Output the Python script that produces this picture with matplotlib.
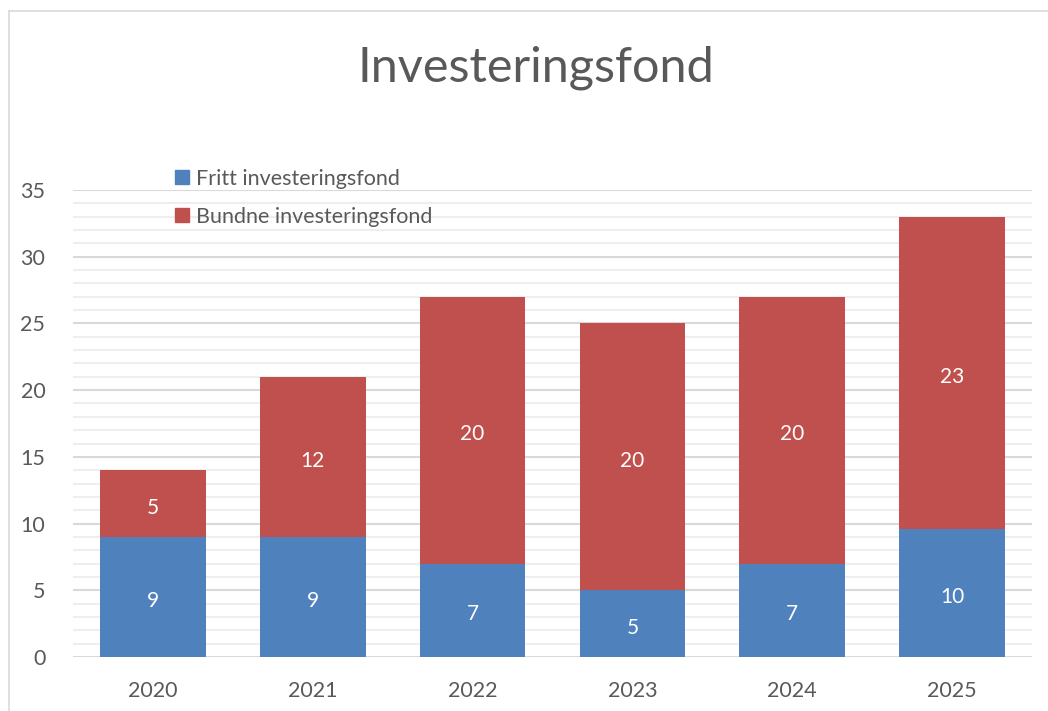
import matplotlib.pyplot as plt
from matplotlib.lines import Line2D
from matplotlib.ticker import MultipleLocator

plt.rcParams['font.family'] = ['Lato', 'DejaVu Sans']

years = ['2020', '2021', '2022', '2023', '2024', '2025']
fritt = [9, 9, 7, 5, 7, 9.6]
bundne = [5, 12, 20, 20, 20, 23.4]

blue = '#4F81BD'
red = '#C0504D'
txt = '#595959'

fig = plt.figure(figsize=(10.48, 7.11), dpi=100)
ax = fig.add_axes([0.0697, 0.0759, 0.9150, 0.6569])

x = range(len(years))
b1 = ax.bar(x, fritt, width=0.66, color=blue, zorder=3)
b2 = ax.bar(x, bundne, width=0.66, bottom=fritt, color=red, zorder=3)
for bars, vals in [(b1, fritt), (b2, bundne)]:
    labs = ax.bar_label(bars, labels=[f'{v:.0f}' for v in vals], label_type='center',
                        color='white', fontsize=15)
    for t in labs:
        t.xyann = (0, -3)

ax.set_xlim(-0.5, len(years) - 0.5)
ax.set_ylim(0, 35)
ax.set_xticks(list(x))
ax.set_xticklabels(years)
ax.yaxis.set_major_locator(MultipleLocator(5))
ax.yaxis.set_minor_locator(MultipleLocator(1))
ax.grid(axis='y', which='major', color='#D9D9D9', lw=1.5, zorder=0)
ax.grid(axis='y', which='minor', color='#EEEEEE', lw=1.5, zorder=0)
ax.tick_params(axis='both', which='both', length=0, labelsize=15.5, labelcolor=txt)
ax.tick_params(axis='y', pad=20)
ax.tick_params(axis='x', pad=17)
for s in ax.spines.values():
    s.set_visible(False)

fig.text(0.511, 0.905, 'Investeringsfond', ha='center', va='center',
         fontsize=35, color=txt)

handles = [Line2D([], [], marker='s', ls='', color=blue, markersize=10),
           Line2D([], [], marker='s', ls='', color=red, markersize=10)]
fig.legend(handles, ['Fritt investeringsfond', 'Bundne investeringsfond'],
           loc='upper left', bbox_to_anchor=(0.155, 0.775), frameon=False,
           fontsize=15.5, labelcolor=txt, handletextpad=0.15, labelspacing=0.85,
           handlelength=1.0, borderaxespad=0)

# light frame round the chart (left and top edges visible)
fig.add_artist(Line2D([0.0086, 0.0086], [0, 0.9845], color='#D9D9D9', lw=1.2))
fig.add_artist(Line2D([0.0086, 1], [0.9845, 0.9845], color='#D9D9D9', lw=1.2))

fig.savefig('out.png', dpi=100)
